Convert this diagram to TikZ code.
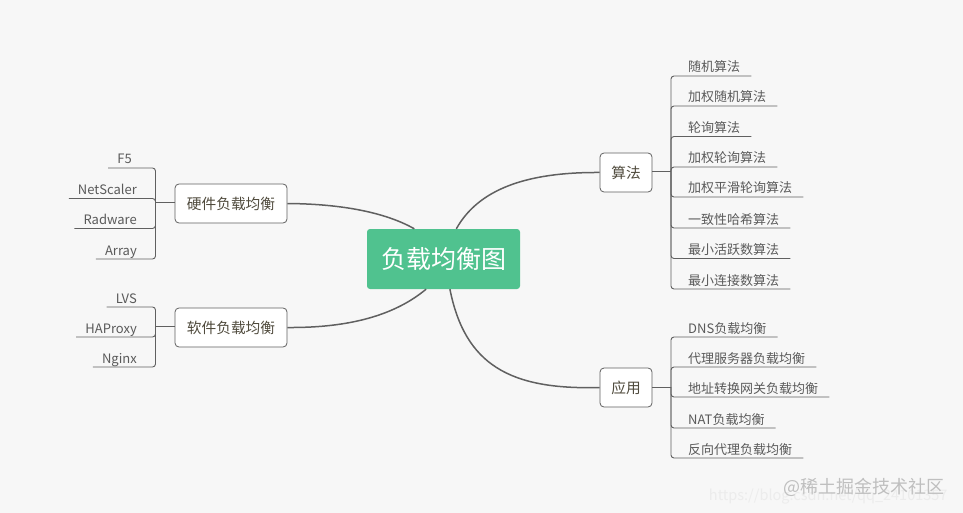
\documentclass[tikz,border=0pt]{standalone}
\usepackage{fontspec}
\setmainfont{Noto Sans CJK SC}
\usetikzlibrary{positioning}
\usetikzlibrary{calc}
\definecolor{pagegrey}{HTML}{F7F7F7}
\definecolor{rootgreen}{HTML}{50C28F}
\definecolor{linegrey}{HTML}{606060}
\definecolor{leafgrey}{HTML}{5A5A5A}
\definecolor{topicbrown}{HTML}{4F4A3C}
\tikzset{
    % The one central box
    root box/.style={
        rectangle, rounded corners=3pt, fill=rootgreen, text=white,
        minimum width=153pt, minimum height=60pt, font=\fontsize{25}{30}\selectfont},
%
    % White boxes on the second level
    topic box/.style={
        draw=linegrey, line width=0.8pt, fill=white, rectangle, rounded corners=4pt,
        text=topicbrown, minimum height=39pt, inner sep=0pt,
        font=\fontsize{14.7}{18}\selectfont},
%
    % Underlined texts, the line is drawn by the twig
    leaf/.style={
        text=leafgrey, inner xsep=0pt, inner ysep=0pt, text height=14pt, text depth=3.8pt,
        font=\fontsize{13}{16}\selectfont},
    right leaf/.style={leaf, anchor=south west},
    left leaf/.style={leaf, anchor=south east},
%
    branch/.style={draw=linegrey, line width=1.5pt},
    twig/.style={draw=linegrey, line width=0.9pt, rounded corners=3pt}}

\begin{document}
\begin{tikzpicture}[x=1pt, y=-1pt]

\fill [pagegrey] (0,0) rectangle (963,513);
\useasboundingbox (0,0) rectangle (963,513);

\node (root) [root box] at (443.5,259) {负载均衡图};

\node (algo) [topic box, minimum width=52pt] at (626,172.5) {算法};
\node (app) [topic box, minimum width=52pt] at (626,387.5) {应用};
\node (hw) [topic box, minimum width=112pt] at (231,203.5) {硬件负载均衡};
\node (sw) [topic box, minimum width=112pt] at (231,327.5) {软件负载均衡};

\draw [branch] (algo.west) .. controls (525,172) and (478,190) .. (root.67);
\draw [branch] (app.west) .. controls (510,390) and (465,365) .. (root.282);
\draw [branch] (hw.east) .. controls (350,204) and (390,215) .. (root.134);
\draw [branch] (sw.east) .. controls (350,328) and (395,315) .. (root.240);

% algorithms
\coordinate (algofork) at (671,171);
\node (a1) [right leaf] at (688,76) {随机算法};
\node (a2) [right leaf] at (688,106) {加权随机算法};
\node (a3) [right leaf] at (688,136.5) {轮询算法};
\node (a4) [right leaf] at (688,167) {加权轮询算法};
\node (a5) [right leaf] at (688,197) {加权平滑轮询算法};
\node (a6) [right leaf] at (688,228) {一致性哈希算法};
\node (a7) [right leaf] at (688,258.5) {最小活跃数算法};
\node (a8) [right leaf] at (688,289) {最小连接数算法};

\draw [twig] (algo.east |- algofork) -- (algofork);
\draw [twig] (algofork) |- ($(a1.south east)+(11,0)$);
\draw [twig] (algofork) |- ($(a2.south east)+(11,0)$);
\draw [twig] (algofork) |- ($(a3.south east)+(11,0)$);
\draw [twig] (algofork) |- ($(a4.south east)+(11,0)$);
\draw [twig] (algofork) |- ($(a5.south east)+(11,0)$);
\draw [twig] (algofork) |- ($(a6.south east)+(11,0)$);
\draw [twig] (algofork) |- ($(a7.south east)+(11,0)$);
\draw [twig] (algofork) |- ($(a8.south east)+(11,0)$);

% applications
\coordinate (appfork) at (671,387);
\node (b1) [right leaf] at (688,337) {DNS负载均衡};
\node (b2) [right leaf] at (688,367) {代理服务器负载均衡};
\node (b3) [right leaf] at (688,397) {地址转换网关负载均衡};
\node (b4) [right leaf] at (688,428) {NAT负载均衡};
\node (b5) [right leaf] at (688,458) {反向代理负载均衡};

\draw [twig] (app.east |- appfork) -- (appfork);
\draw [twig] (appfork) |- ($(b1.south east)+(11,0)$);
\draw [twig] (appfork) |- ($(b2.south east)+(11,0)$);
\draw [twig] (appfork) |- ($(b3.south east)+(11,0)$);
\draw [twig] (appfork) |- ($(b4.south east)+(11,0)$);
\draw [twig] (appfork) |- ($(b5.south east)+(11,0)$);

% hardware
\coordinate (hwfork) at (155.5,202);
\node (c1) [left leaf] at (132,168) {F5};
\node (c2) [left leaf] at (137,198.5) {NetScaler};
\node (c3) [left leaf] at (137,228.5) {Radware};
\node (c4) [left leaf] at (137,259) {Array};

\draw [twig] (hw.west |- hwfork) -- (hwfork);
\draw [twig] (hwfork) |- ($(c1.south west)+(-9,0)$);
\draw [twig] (hwfork) |- ($(c2.south west)+(-9,0)$);
\draw [twig] (hwfork) |- ($(c3.south west)+(-9,0)$);
\draw [twig] (hwfork) |- ($(c4.south west)+(-9,0)$);

% software
\coordinate (swfork) at (155.5,326);
\node (d1) [left leaf] at (137,307) {LVS};
\node (d2) [left leaf] at (137,337) {HAProxy};
\node (d3) [left leaf] at (137,367) {Nginx};

\draw [twig] (sw.west |- swfork) -- (swfork);
\draw [twig] (swfork) |- ($(d1.south west)+(-9,0)$);
\draw [twig] (swfork) |- ($(d2.south west)+(-9,0)$);
\draw [twig] (swfork) |- ($(d3.south west)+(-9,0)$);

\node (url) [anchor=base east, text=white!85!gray, font=\fontsize{14.5}{18}\selectfont]
    at (951,500) {https://blog.csdn.net/qq\_24101357};
\node (mark) [anchor=base east, text=white!50!gray, font=\fontsize{18}{22}\selectfont]
    at (948,493) {@稀土掘金技术社区};

\end{tikzpicture}
\end{document}
